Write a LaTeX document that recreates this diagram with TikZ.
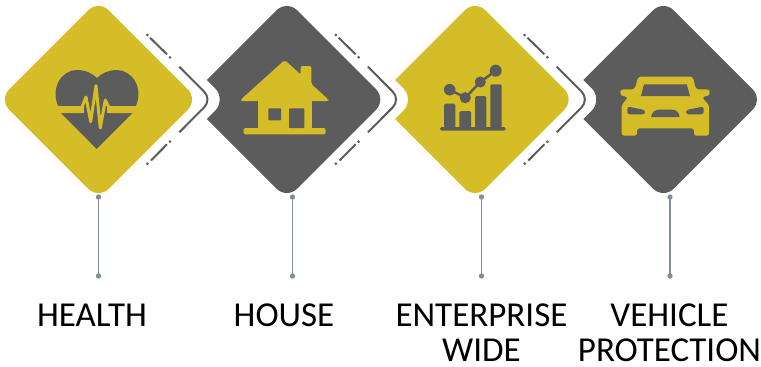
\documentclass[tikz,border=0pt]{standalone}
\usepackage{fontspec}
\setmainfont{Carlito}
\definecolor{gold}{HTML}{D5BD27}
\definecolor{slate}{HTML}{5C5C5C}
\definecolor{stemc}{HTML}{7E9096}
\tikzset{
  lbl/.style={font=\fontsize{35}{35}\selectfont,text=black,inner sep=0pt,anchor=base},
  stemline/.style={draw=stemc,line width=1.7pt},
  stemdot/.style={fill=stemc},
  chevline/.style={draw=slate,line width=2pt,rounded corners=11pt},
  dashline/.style={draw=slate,line width=2pt},
  dashdot/.style={fill=slate}
}
\newcommand{\twolines}[2]{\vbox{\baselineskip=35pt\lineskiplimit=-100pt\halign{\hfil##\hfil\cr #1\cr #2\cr}}}
\newcommand{\diamondfull}[2]{\fill[#2,rounded corners=14.5pt] (#1-99.5,99.5) -- (#1,0) -- (#1+99.5,99.5) -- (#1,199) -- cycle;}
\newcommand{\diamondnotch}[2]{\fill[#2] (#1-80,80) [rounded corners=14.5pt] -- (#1,0) -- (#1+99.5,99.5) -- (#1,199) -- (#1-20,179) [sharp corners] -- (#1-80,119) -- (#1-71.8,110.8) .. controls (#1-65.6,105.2) and (#1-65.6,93.8) .. (#1-71.8,88.2) -- cycle;}
\newcommand{\chevron}[1]{%
  \draw[chevline] (#1+179.3,66.7) -- (#1+212,99.5) -- (#1+179.3,132.3);
  \coordinate (ta) at (#1+150,37.7); \coordinate (tb) at (#1+167,54.3);
  \coordinate (ba) at (#1+151,160.5); \coordinate (bb) at (#1+167,144.3);
  \draw[dashline] (ta) -- (tb);
  \draw[dashline] (ba) -- (bb);
  \fill[dashdot] (#1+147.3,35) circle (1.5pt) (#1+170,57.3) circle (1.5pt) (#1+147.3,163.7) circle (1.5pt) (#1+170,141.7) circle (1.5pt);
}
\newcommand{\stem}[2]{%
  \coordinate (#2a) at (#1,197); \coordinate (#2b) at (#1,276);
  \draw[stemline] (#2a) -- (#2b);
  \fill[stemdot] (#2a) circle (2.7pt) (#2b) circle (2.7pt);
}
\begin{document}
\begin{tikzpicture}[x=1pt,y=-1pt]
\useasboundingbox (0,0) rectangle (761,367);
\fill[white] (0,0) rectangle (761,367);
\diamondfull{98.5}{gold}
\diamondnotch{286.8}{slate}
\diamondnotch{475.1}{gold}
\diamondnotch{663.4}{slate}
\chevron{0}\chevron{188.6}\chevron{377.4}
\stem{98.5}{sa}\stem{292.5}{sb}\stem{481.5}{sc}\stem{670}{sd}
% heart
\fill[slate] (58.2,106) .. controls (50,88) and (62,70) .. (76.5,70) .. controls (85,70) and (92,73) .. (97,78) .. controls (102,73) and (109,70) .. (117,70) .. controls (132,70) and (144,88) .. (135.8,106) -- cycle;
\fill[slate] (61,113) -- (132.7,113) -- (96.7,149) -- cycle;
\fill[slate] (84,105) rectangle (107,114);
\fill[gold] (56,106) rectangle (82,113) (109,106) rectangle (139,113);
\draw[gold,line width=3pt,line join=round,line cap=round] (81,109.5) -- (86,97) -- (90.7,121.7) -- (96,85.7) -- (100.3,128) -- (105.3,100) -- (110,109.5);
% house
\fill[gold,rounded corners=2pt] (241,99.5) -- (284.7,60) -- (300.7,74.5) -- (300.7,66) -- (311.3,66) -- (311.3,84) -- (328.3,99.5) -- (328.3,101) -- (241,101) -- cycle;
\fill[gold] (258,100) rectangle (311.7,129);
\fill[gold,rounded corners=1.5pt] (243.7,128) rectangle (325.7,134.3);
\fill[slate,rounded corners=0.7pt] (268.3,108.3) rectangle (281,120.3);
\fill[slate,rounded corners=0.7pt] (289,108.3) rectangle (304.3,128);
% chart
\fill[slate,rounded corners=1.5pt] (440,127) rectangle (505.7,130.7);
\fill[slate,rounded corners=1.5pt] (444,128) rectangle (455.3,103.7);
\fill[slate,rounded corners=1.5pt] (459.3,128) rectangle (471,111);
\fill[slate,rounded corners=1.5pt] (475,128) rectangle (486.3,96);
\fill[slate,rounded corners=1.5pt] (490.3,128) rectangle (501.7,84.3);
\draw[slate,line width=2.5pt] (449.7,89.7) -- (465.3,97.7) -- (480.3,82) -- (495.7,70.7);
\fill[slate] (449.7,89.7) circle (5.8pt) (465.3,97.7) circle (5.6pt) (480.3,82) circle (5.6pt) (495.7,70.7) circle (6pt);
% car
\fill[gold,rounded corners=2.5pt] (638.3,76.7) -- (692.7,76.7) -- (696,89.3) -- (706,89.3) .. controls (710,90) and (710,95) .. (706,96) -- (702,97.5) -- (709,105) -- (709,135.7) -- (694,135.7) -- (694,128.3) -- (637,128.3) -- (637,135.7) -- (621.7,135.7) -- (621.7,105) -- (628,97.5) -- (624,96) .. controls (620,95) and (620,90) .. (624,89.3) -- (634.5,89.3) -- cycle;
\fill[slate] (644,84.3) -- (686.7,84.3) -- (690,96) -- (641,96) -- cycle;
\fill[slate,rounded corners=2.5pt] (627.3,106.5) -- (645,110) -- (645,114.3) -- (627.3,114.3) -- cycle;
\fill[slate,rounded corners=2.5pt] (703.7,106.5) -- (686,110) -- (686,114.3) -- (703.7,114.3) -- cycle;
\fill[slate] (651,117) .. controls (652,112) and (655,109.7) .. (659,109.7) -- (672,109.7) .. controls (676,109.7) and (679,112) .. (679.7,117) -- cycle;
% labels
\node[lbl] (lhealth) at (92,326) {HEALTH};
\node[lbl] (lhouse) at (284,326) {HOUSE};
\node[lbl] (lent) at (481.5,361) {\twolines{ENTERPRISE}{WIDE}};
\node[lbl] (lveh) at (669.5,361) {\twolines{VEHICLE}{PROTECTION}};
\end{tikzpicture}
\end{document}
